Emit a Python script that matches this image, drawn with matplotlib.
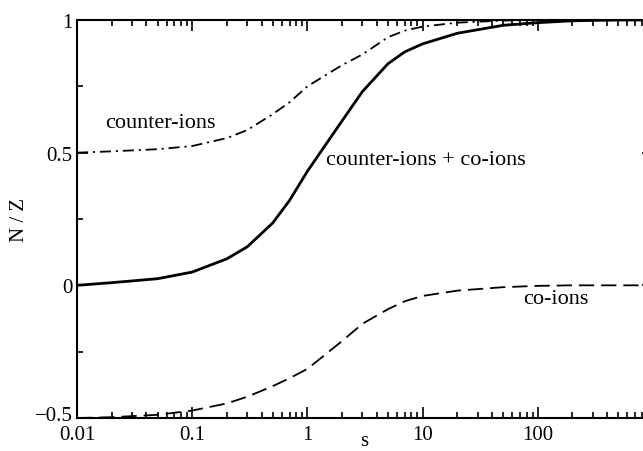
import matplotlib
matplotlib.use("Agg")
import matplotlib.pyplot as plt
import matplotlib.transforms as mtransforms
from matplotlib.ticker import FixedLocator, LogLocator, NullFormatter

plt.rcParams['font.family'] = ['Liberation Serif', 'DejaVu Serif']
plt.rcParams['lines.scale_dashes'] = False

# data
s = [0.01, 0.02, 0.05, 0.1, 0.2, 0.3, 0.5, 0.7, 1, 2, 3, 5, 7, 10,
     20, 50, 100, 200, 500, 1000]
total = [0.0, 0.01, 0.025, 0.05, 0.10, 0.145, 0.235, 0.32, 0.43, 0.62,
         0.73, 0.835, 0.88, 0.91, 0.95, 0.98, 0.99, 0.997, 1.0, 1.0]
counter = [0.5, 0.505, 0.513, 0.525, 0.555, 0.585, 0.645, 0.69, 0.75,
           0.83, 0.87, 0.935, 0.96, 0.975, 0.99, 0.998, 1.0, 1.0, 1.0, 1.0]
co = [-0.5, -0.497, -0.488, -0.472, -0.445, -0.42, -0.38, -0.35, -0.315,
      -0.21, -0.145, -0.09, -0.06, -0.04, -0.02, -0.007, -0.002, 0.0,
      0.0, 0.0]

yticks = [-0.5, 0, 0.5, 1]
ytick_labels = ['\u22120.5', '0', '0.5', '1']
xticks = [0.01, 0.1, 1, 10, 100]
xtick_labels = ['0.01', '0.1', '1', '10', '100']

fig = plt.figure(figsize=(6.43, 4.52), dpi=100)
ax = fig.add_axes([77 / 643, 1 - 419 / 452, 576 / 643, 398 / 452])

ax.plot(s, total, color='black', lw=2.0)
ax.plot(s, counter, color='black', lw=1.3, dashes=(8, 3.5, 1.5, 3.5))
ax.plot(s, co, color='black', lw=1.3, dashes=(11, 5))

ax.set_xscale('log')
ax.set_xlim(0.01, 1000)
ax.set_ylim(-0.5, 1)

ax.set_xticks(xticks)
ax.set_xticklabels(xtick_labels)
ax.xaxis.set_minor_locator(LogLocator(base=10, subs=range(2, 10), numticks=20))
ax.xaxis.set_minor_formatter(NullFormatter())
ax.set_yticks(yticks)
ax.set_yticklabels(ytick_labels)
ax.yaxis.set_minor_locator(FixedLocator([-0.25, 0.25, 0.75]))

ax.tick_params(which='both', direction='in', top=True, right=True,
               labelsize=15, width=1.2)
ax.tick_params(which='major', length=8, pad=3)
ax.tick_params(axis='x', which='major', pad=5)
ax.tick_params(which='minor', length=4)
for sp in ax.spines.values():
    sp.set_linewidth(1.5)

# lift the bottom y label a little so it clears "0.01"
lbl = ax.get_yticklabels()[0]
lbl.set_transform(lbl.get_transform() +
                  mtransforms.ScaledTranslation(0, 5 / 100, fig.dpi_scale_trans))

# axis label "s" sits right at the bottom edge, as in the original
fig.text(364 / 643, 1 / 452, 's', fontsize=15, ha='center', va='bottom')
ax.set_ylabel('N / Z', fontsize=15, labelpad=4)

ax.text(0.053, 0.614, 'counter-ions', fontsize=16, ha='center', va='center')
ax.text(1.45, 0.475, 'counter-ions + co-ions', fontsize=16, ha='left',
        va='center')
ax.text(74, -0.05, 'co-ions', fontsize=16, ha='left', va='center')

fig.savefig('out.png', dpi=100)
